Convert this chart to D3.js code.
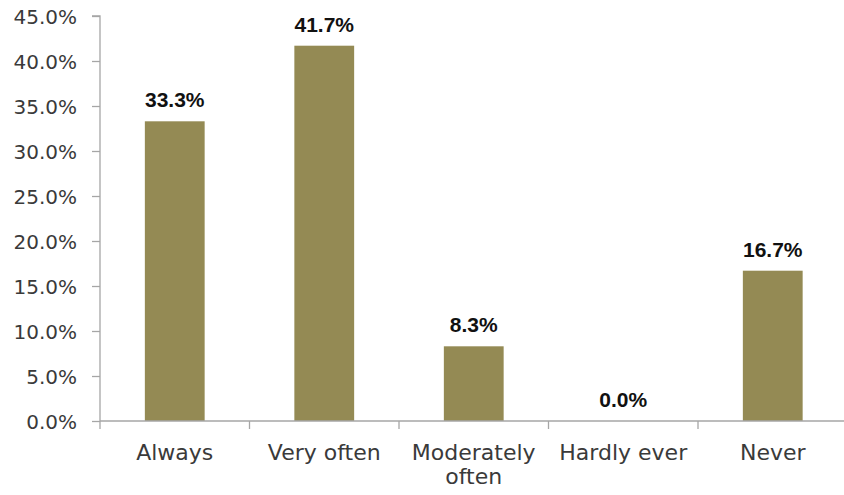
<!DOCTYPE html>
<html>
<head>
<meta charset="utf-8">
<script src="https://cdn.jsdelivr.net/npm/d3@7"></script>
<style>
  html, body { margin: 0; padding: 0; background: #fff; }
  svg { display: block; }
</style>
</head>
<body>
<svg id="chart" width="844" height="495"></svg>
<script>
// Share of responses per frequency category
const categories = ["Always", "Very often", "Moderately often", "Hardly ever", "Never"];
const values = [33.3, 41.7, 8.3, 0.0, 16.7];
const yTicks = [0, 5, 10, 15, 20, 25, 30, 35, 40, 45];

const svg = d3.select("#chart");
const margin = { left: 100, top: 16, bottom: 74 };
const plotRight = 847.5;
const height = 495;
const fontFamily = "'DejaVu Sans', 'Liberation Sans', sans-serif";
const labelFamily = "'Liberation Sans', Arial, sans-serif";
const axisColor = "#a6a6a6";
const barColor = "#948a54";
const textColor = "#3a3a3a";

const x = d3.scaleBand()
  .domain(categories)
  .range([margin.left, plotRight])
  .paddingInner(0.6)
  .paddingOuter(0.3);

const y = d3.scaleLinear()
  .domain([0, 45])
  .range([height - margin.bottom, margin.top]);

const y0 = y(0);

// Bars
svg.append("g")
  .selectAll("rect")
  .data(categories)
  .join("rect")
  .attr("x", d => x(d))
  .attr("width", x.bandwidth())
  .attr("y", (d, i) => y(values[i]))
  .attr("height", (d, i) => y0 - y(values[i]))
  .attr("fill", barColor);

// Y axis
const yAxis = svg.append("g")
  .attr("transform", `translate(${margin.left},0)`)
  .call(d3.axisLeft(y).tickValues(yTicks).tickSize(8).tickPadding(15)
    .tickFormat(d => d.toFixed(1) + "%"));
yAxis.selectAll("path, line").attr("stroke", axisColor).attr("stroke-width", 1.3);
yAxis.select(".domain").attr("d", `M-8,${y(45)}H0V${y0}`);
yAxis.selectAll("text")
  .attr("font-family", fontFamily)
  .attr("font-size", 20)
  .attr("fill", textColor)
  .attr("dy", "0.36em");

// X axis: ticks sit on band boundaries
const step = x.step();
const boundaries = d3.range(categories.length + 1).map(i => margin.left + i * step);
const xAxis = svg.append("g");
xAxis.append("line")
  .attr("x1", margin.left).attr("x2", plotRight)
  .attr("y1", y0).attr("y2", y0)
  .attr("stroke", axisColor).attr("stroke-width", 1.3);
xAxis.selectAll("line.tick")
  .data(boundaries)
  .join("line")
  .attr("class", "tick")
  .attr("x1", d => d).attr("x2", d => d)
  .attr("y1", y0).attr("y2", y0 + 8)
  .attr("stroke", axisColor).attr("stroke-width", 1.3);

// Category labels (wrap "Moderately often" onto two lines)
const labelLines = { "Moderately often": ["Moderately", "often"] };
const catLabels = svg.append("g")
  .selectAll("text")
  .data(categories)
  .join("text")
  .attr("x", d => x(d) + x.bandwidth() / 2)
  .attr("y", y0 + 39)
  .attr("text-anchor", "middle")
  .attr("font-family", fontFamily)
  .attr("font-size", 22)
  .attr("fill", textColor);
catLabels.each(function(d) {
  const lines = labelLines[d] || [d];
  const t = d3.select(this);
  lines.forEach((line, i) => {
    t.append("tspan")
      .attr("x", x(d) + x.bandwidth() / 2)
      .attr("dy", i === 0 ? 0 : 24)
      .text(line);
  });
});

// Value labels above bars
svg.append("g")
  .selectAll("text")
  .data(categories)
  .join("text")
  .attr("x", d => x(d) + x.bandwidth() / 2)
  .attr("y", (d, i) => y(values[i]) - 14)
  .attr("text-anchor", "middle")
  .attr("font-family", labelFamily)
  .attr("font-size", 21)
  .attr("font-weight", "bold")
  .attr("fill", "#111")
  .text((d, i) => values[i].toFixed(1) + "%");
</script>
</body>
</html>
